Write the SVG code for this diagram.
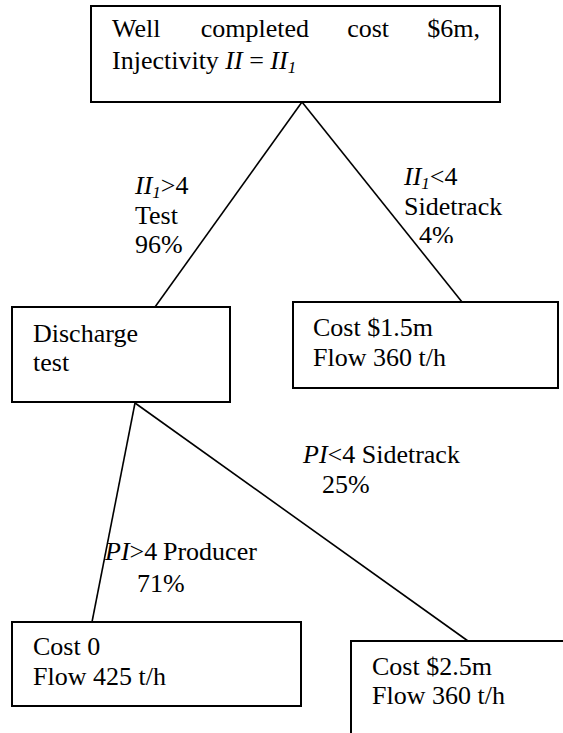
<svg xmlns="http://www.w3.org/2000/svg" width="563" height="733" viewBox="0 0 563 733">
<style>
text{font-family:"Liberation Serif","Times New Roman",serif;font-size:26px;fill:#000}
.it{font-style:italic}
.sub{font-size:17px;font-style:italic}
.box{fill:#fff;stroke:#000;stroke-width:2}
.con{stroke:#000;stroke-width:1.6;fill:none}
</style>
<defs>
<clipPath id="cut4"><rect x="380" y="200" width="100" height="43"/></clipPath>
</defs>
<rect width="563" height="733" fill="#fff"/>
<g id="connectors">
<line class="con" x1="302" y1="102" x2="155" y2="307"/>
<line class="con" x1="302" y1="102" x2="462" y2="302"/>
<line class="con" x1="135" y1="403" x2="92" y2="622"/>
<line class="con" x1="135" y1="403" x2="468" y2="641"/>
</g>
<g id="root">
<rect class="box" x="91" y="6" width="409" height="96"/>
<text y="37"><tspan x="112">Well</tspan><tspan x="200.7">completed</tspan><tspan x="347.2">cost</tspan><tspan x="427.3">$6m,</tspan></text>
<text x="112" y="69">Injectivity <tspan class="it">II</tspan> = <tspan class="it">II</tspan><tspan class="sub" dy="4">1</tspan></text>
</g>
<g id="discharge">
<rect class="box" x="12" y="307" width="218" height="95"/>
<text x="33" y="342">Discharge</text>
<text x="33" y="371">test</text>
</g>
<g id="sidetrack1">
<rect class="box" x="293" y="302" width="265" height="86"/>
<text x="313" y="336">Cost $1.5m</text>
<text x="313" y="366">Flow 360 t/h</text>
</g>
<g id="producer">
<rect class="box" x="12" y="622" width="289" height="84"/>
<text x="33" y="655">Cost 0</text>
<text x="33" y="685">Flow 425 t/h</text>
</g>
<g id="sidetrack2">
<rect class="box" x="351" y="641" width="240" height="120"/>
<text x="372" y="675">Cost $2.5m</text>
<text x="372" y="704">Flow 360 t/h</text>
</g>
<g id="labels">
<text x="135" y="194"><tspan class="it">II</tspan><tspan class="sub" dy="4">1</tspan><tspan dy="-4">&gt;4</tspan></text>
<text x="135" y="224">Test</text>
<text x="135" y="253">96%</text>
<text x="404" y="185"><tspan class="it">II</tspan><tspan class="sub" dy="4">1</tspan><tspan dy="-4">&lt;4</tspan></text>
<text x="404" y="215">Sidetrack</text>
<text x="419" y="244" clip-path="url(#cut4)">4%</text>
<text x="303" y="463"><tspan class="it">PI</tspan>&lt;4 Sidetrack</text>
<text x="322" y="493">25%</text>
<text x="105" y="560"><tspan class="it">PI</tspan>&gt;4<tspan x="163">Producer</tspan></text>
<text x="137" y="592">71%</text>
</g>
</svg>
